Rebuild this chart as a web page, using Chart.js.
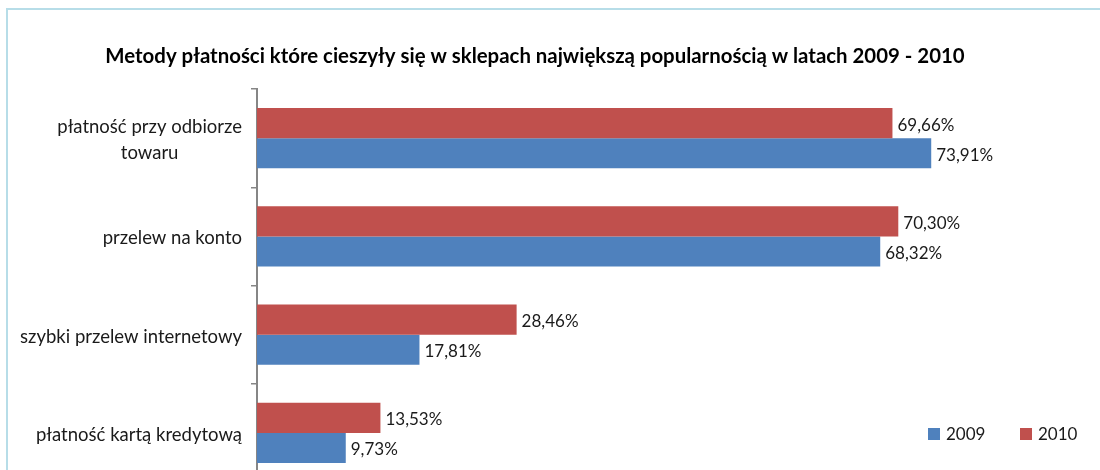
<!DOCTYPE html>
<html>
<head>
<meta charset="utf-8">
<script src="https://cdn.jsdelivr.net/npm/chart.js@4.4.1/dist/chart.umd.min.js"></script>
<style>
  html, body { margin: 0; padding: 0; background: #fff; overflow: hidden; }
  #wrap { position: relative; width: 1100px; height: 470px; overflow: hidden; }
  #frame { position: absolute; left: 6px; top: 8px; width: 1200px; height: 600px;
           border-left: 2px solid #b7dde8; border-top: 2px solid #b7dde8; }
  canvas { position: absolute; left: 0; top: 0; }
</style>
</head>
<body>
<div id="wrap">
  <div id="frame"></div>
  <canvas id="myChart" width="1100" height="490"></canvas>
</div>
<script>
const chartTitle = 'Metody płatności które cieszyły się w sklepach największą popularnością w latach 2009 - 2010';
const categories = [['płatność przy odbiorze', 'towaru'], 'przelew na konto', 'szybki przelew internetowy', 'płatność kartą kredytową'];
const values2009 = [73.91, 68.32, 17.81, 9.73];
const values2010 = [69.66, 70.30, 28.46, 13.53];
const seriesLabels = ['2009', '2010'];

const BLUE = '#4F81BD';
const RED = '#C0504D';
const FONT = 'Lato, "Open Sans", sans-serif';

function fmt(v) {
    return v.toFixed(2).replace('.', ',') + '%';
}

// title, category labels, value labels and legend drawn on top of the bars
const textLayer = {
    id: 'textLayer',
    afterDatasetsDraw(chart) {
        const ctx = chart.ctx;
        const area = chart.chartArea;
        const yScale = chart.scales.y;
        ctx.save();

        ctx.font = 'bold 20.4px ' + FONT;
        ctx.fillStyle = '#000';
        ctx.textAlign = 'center';
        ctx.textBaseline = 'middle';
        ctx.fillText(chartTitle, 535, 56);

        ctx.font = '18.5px ' + FONT;
        ctx.fillStyle = '#1a1a1a';
        categories.forEach((label, i) => {
            const lines = Array.isArray(label) ? label : [label];
            const y = yScale.getPixelForValue(i) + 2;
            const right = area.left - 15;
            const blockW = Math.max(...lines.map(l => ctx.measureText(l).width));
            lines.forEach((line, j) => {
                const ly = y + (j - (lines.length - 1) / 2) * 25.5;
                if (j === 0) {
                    ctx.textAlign = 'right';
                    ctx.fillText(line, right, ly);
                } else {
                    ctx.textAlign = 'center';
                    ctx.fillText(line, right - blockW / 2, ly);
                }
            });
        });

        ctx.font = '17px ' + FONT;
        ctx.textAlign = 'left';
        chart.data.datasets.forEach((ds, di) => {
            chart.getDatasetMeta(di).data.forEach((bar, i) => {
                ctx.fillText(fmt(ds.data[i]), bar.x + 5, bar.y + 2);
            });
        });

        // legend, 2009 first like the original
        let lx = 928;
        const ly = 434;
        [...chart.data.datasets].reverse().forEach(ds => {
            ctx.fillStyle = ds.backgroundColor;
            ctx.fillRect(lx, ly - 6, 12, 12);
            ctx.fillStyle = '#1a1a1a';
            ctx.fillText(ds.label, lx + 18, ly + 1);
            lx += 92;
        });

        ctx.restore();
    }
};

var ctx = document.getElementById('myChart').getContext('2d');

var myChart = new Chart(ctx, {
    type: 'bar',
    data: {
        labels: categories,
        datasets: [
            { label: seriesLabels[1], data: values2010, backgroundColor: RED, borderWidth: 0 },
            { label: seriesLabels[0], data: values2009, backgroundColor: BLUE, borderWidth: 0 },
        ],
    },
    options: {
        indexAxis: 'y',
        responsive: false,
        animation: false,
        devicePixelRatio: 1,
        categoryPercentage: 0.612,
        barPercentage: 1.0,
        layout: { padding: { left: 251, top: 89, right: 22, bottom: 8 } },
        scales: {
            x: { display: false, min: 0, max: 90 },
            y: {
                grid: { offset: true, drawOnChartArea: false, drawTicks: true, tickLength: 6, color: '#868686', lineWidth: 1.5 },
                border: { display: true, color: '#868686', width: 2 },
                ticks: { display: false },
            },
        },
        plugins: {
            legend: { display: false },
            title: { display: false },
            tooltip: { enabled: false },
        },
    },
    plugins: [textLayer],
});
</script>
</body>
</html>
